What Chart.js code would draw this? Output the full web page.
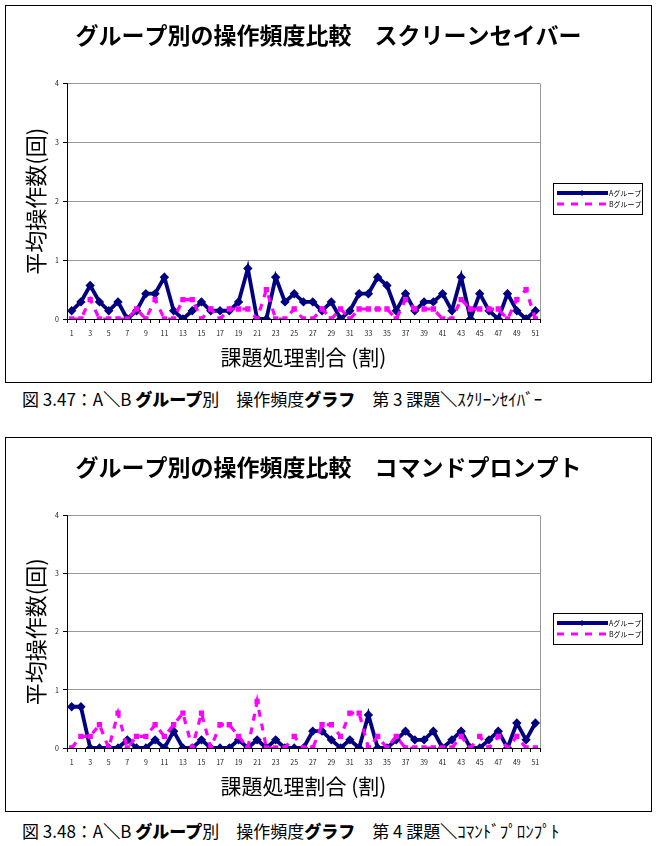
<!DOCTYPE html>
<html lang="ja">
<head>
<meta charset="utf-8">
<script src="https://cdn.jsdelivr.net/npm/chart.js@4.4.0/dist/chart.umd.min.js"></script>
<style>
  body { margin: 0; background: #fff; width: 659px; height: 846px; position: relative; font-family: "Noto Sans CJK JP", sans-serif; }
  .panel { position: absolute; left: 5px; width: 645px; border: 1px solid #000; background: #fff; }
  .panel canvas { display: block; }
  .cap { position: absolute; left: 22px; font-size: 17px; color: #000; white-space: nowrap; }
  .cap b { font-weight: 900; }
</style>
</head>
<body>
<div class="panel" style="top:5px;height:376px"><canvas id="chart1" width="645" height="376"></canvas></div>
<div class="cap" style="top:386px">図 3.47：A<b>＼</b>B <b>グループ</b>別　操作頻度<b>グラフ</b>　第 3 課題<b>＼</b>ｽｸﾘｰﾝｾｲﾊﾞｰ</div>
<div class="panel" style="top:437px;height:373px"><canvas id="chart2" width="645" height="373"></canvas></div>
<div class="cap" style="top:818px">図 3.48：A<b>＼</b>B <b>グループ</b>別　操作頻度<b>グラフ</b>　第 4 課題<b>＼</b>ｺﾏﾝﾄﾞﾌﾟﾛﾝﾌﾟﾄ</div>

<script>
// Categories (課題処理割合)
const categories = ["1","2","3","4","5","6","7","8","9","10",
  "11","12","13","14","15","16","17","18","19","20",
  "21","22","23","24","25","26","27","28","29","30",
  "31","32","33","34","35","36","37","38","39","40",
  "41","42","43","44","45","46","47","48","49","50","51"];

const yTicks = [0, 1, 2, 3, 4];

// Chart 1 : スクリーンセイバー
const screenA = [0.14,0.29,0.57,0.29,0.14,0.29,0,0.14,0.43,0.43,
  0.71,0.14,0,0.14,0.29,0.14,0.14,0.14,0.29,0.86,
  0,0,0.71,0.29,0.43,0.29,0.29,0.14,0.29,0,
  0.14,0.43,0.43,0.71,0.57,0.14,0.43,0.14,0.29,0.29,
  0.43,0.14,0.71,0,0.43,0.14,0,0.43,0.14,0,0.14];
const screenB = [0,0,0.33,0,0,0,0,0.17,0,0.33,
  0,0,0.33,0.33,0,0.17,0,0.17,0.17,0.17,
  0,0.5,0,0,0.17,0,0,0.17,0,0.17,
  0,0.17,0.17,0.17,0.17,0,0.33,0.17,0.17,0.17,
  0,0,0.33,0.17,0.17,0.17,0.17,0,0.33,0.5,0];

// Chart 2 : コマンドプロンプト
const cmdA = [0.71,0.71,0,0,0,0,0.14,0,0,0.14,
  0,0.29,0,0,0.14,0,0,0,0.14,0,
  0.14,0,0.14,0,0,0,0.29,0.29,0.14,0,
  0.14,0,0.57,0,0,0.14,0.29,0.14,0.14,0.29,
  0,0.14,0.29,0,0,0.14,0.29,0,0.43,0.14,0.43];
const cmdB = [0,0.2,0.2,0.4,0,0.6,0,0.2,0.2,0.4,
  0.2,0.4,0.6,0,0.6,0,0.4,0.4,0.2,0,
  0.8,0,0,0,0.2,0,0,0.4,0.4,0.2,
  0.6,0.6,0,0.2,0,0.2,0,0,0,0,
  0,0,0.2,0,0.2,0,0.2,0,0.2,0,0];

const FONT = '"Noto Sans CJK JP", sans-serif';

// gray border on the right side of the plot
const plotFrame = {
  id: "plotFrame",
  beforeDatasetsDraw(chart) {
    const a = chart.chartArea;
    const ctx = chart.ctx;
    ctx.save();
    ctx.strokeStyle = "#999";
    ctx.lineWidth = 1;
    ctx.beginPath();
    ctx.moveTo(Math.round(a.right) + 0.5, a.top);
    ctx.lineTo(Math.round(a.right) + 0.5, a.bottom);
    ctx.stroke();
    ctx.restore();
  }
};

// legend with a box around it, right of the plot
const legendBox = {
  id: "legendBox",
  afterDraw(chart) {
    const ctx = chart.ctx;
    const a = chart.chartArea;
    const w = 89, h = 31;
    const x = Math.round(a.right) + 13;
    const y = Math.round((a.top + a.bottom) / 2 - h / 2 - 3);
    ctx.save();
    ctx.strokeStyle = "#000";
    ctx.lineWidth = 1;
    ctx.strokeRect(x + 0.5, y + 0.5, w, h);
    chart.data.datasets.forEach((ds, i) => {
      const ly = y + 10 + i * 11;
      ctx.beginPath();
      ctx.strokeStyle = ds.borderColor;
      ctx.lineWidth = ds.borderWidth;
      ctx.setLineDash(ds.borderDash || []);
      ctx.moveTo(x + 4, ly);
      ctx.lineTo(x + 55, ly);
      ctx.stroke();
      ctx.setLineDash([]);
      if (i === 0) {
        ctx.fillStyle = ds.borderColor;
        ctx.beginPath();
        ctx.moveTo(x + 29, ly - 3);
        ctx.lineTo(x + 32, ly);
        ctx.lineTo(x + 29, ly + 3);
        ctx.lineTo(x + 26, ly);
        ctx.closePath();
        ctx.fill();
      }
      ctx.fillStyle = "#000";
      ctx.font = "7px " + FONT;
      ctx.textBaseline = "middle";
      ctx.fillText(ds.label, x + 56, ly);
    });
    ctx.restore();
  }
};

function makeChart(id, titleText, aVals, bVals) {
  const ctx = document.getElementById(id).getContext("2d");
  return new Chart(ctx, {
    type: "line",
    data: {
      labels: categories,
      datasets: [
        {
          label: "Aグループ",
          data: aVals,
          borderColor: "#000080",
          backgroundColor: "#000080",
          borderWidth: 3.8,
          pointStyle: "rectRot",
          pointRadius: 2,
          tension: 0,
          order: 1
        },
        {
          label: "Bグループ",
          data: bVals,
          borderColor: "#ff00ff",
          backgroundColor: "#ff00ff",
          borderWidth: 3.2,
          borderDash: [7, 7],
          pointStyle: "rect",
          pointRadius: 1.5,
          tension: 0,
          order: 0
        }
      ]
    },
    options: {
      responsive: false,
      animation: false,
      layout: { padding: { top: 6, left: 0, right: 0, bottom: 8 } },
      plugins: {
        legend: { display: false },
        tooltip: { enabled: false },
        title: {
          display: true,
          text: titleText,
          color: "#000",
          font: { family: FONT, size: 23, weight: "bold" },
          padding: { top: 9, bottom: 35 }
        }
      },
      scales: {
        x: {
          offset: true,
          afterFit: s => { s.height = 55; },
          grid: { drawOnChartArea: false, drawTicks: true, tickLength: 4, tickColor: "#000", offset: true },
          border: { color: "#000", width: 1 },
          ticks: {
            autoSkip: false,
            maxRotation: 0,
            padding: 6,
            color: "#222",
            font: { family: FONT, size: 7 },
            callback: function (value, index) {
              return index % 2 === 0 ? this.getLabelForValue(value) : "";
            }
          },
          title: {
            display: true,
            text: "課題処理割合 (割)",
            color: "#000",
            font: { family: FONT, size: 21 },
            padding: { top: 0, bottom: 4 }
          }
        },
        y: {
          min: yTicks[0],
          max: yTicks[yTicks.length - 1],
          afterFit: s => { s.width = 61; },
          afterBuildTicks: s => { s.ticks = yTicks.map(v => ({ value: v })); },
          grid: { color: "#999", lineWidth: 1, drawTicks: true, tickLength: 4, tickColor: "#000" },
          border: { color: "#000", width: 1 },
          ticks: {
            padding: 4,
            color: "#222",
            font: { family: FONT, size: 7 }
          },
          title: {
            display: true,
            text: "平均操作数(回)",
            color: "#000",
            font: { family: FONT, size: 22 },
            padding: { top: 16, bottom: 0 }
          }
        },
        // empty right-hand area that holds the legend box
        side: {
          position: "right",
          afterFit: s => { s.width = 111; },
          grid: { display: false },
          border: { display: false },
          ticks: { display: false }
        }
      }
    },
    plugins: [plotFrame, legendBox]
  });
}

makeChart("chart1", "グループ別の操作頻度比較　スクリーンセイバー", screenA, screenB);
makeChart("chart2", "グループ別の操作頻度比較　コマンドプロンプト", cmdA, cmdB);
</script>
</body>
</html>
